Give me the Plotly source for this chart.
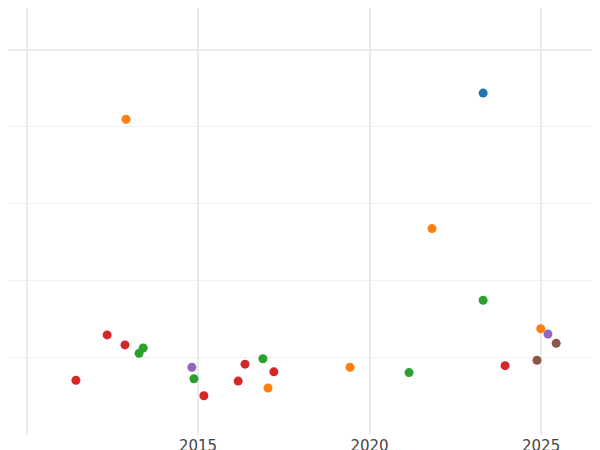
import plotly.graph_objects as go

colors = ["#1f77b4", "#ff7f0e", "#2ca02c", "#d62728", "#9467bd", "#8c564b"]
series_x = [
    [2023.31],
    [2012.90, 2021.82, 2024.99, 2019.43, 2017.04],
    [2023.31, 2013.28, 2013.40, 2014.88, 2016.89, 2021.15],
    [2011.44, 2012.35, 2012.87, 2015.17, 2016.17, 2016.37, 2017.21, 2023.95],
    [2014.82, 2025.20],
    [2024.88, 2025.44],
]
series_y = [
    [4.44],
    [4.10, 2.68, 1.38, 0.88, 0.61],
    [1.75, 1.06, 1.13, 0.73, 0.99, 0.81],
    [0.71, 1.30, 1.17, 0.51, 0.70, 0.92, 0.82, 0.90],
    [0.88, 1.31],
    [0.97, 1.19],
]
tick_vals = [2015, 2020, 2025]

fig = go.Figure()
for xs, ys, c in zip(series_x, series_y, colors):
    fig.add_trace(go.Scatter(x=xs, y=ys, mode="markers",
                             marker=dict(color=c, size=9), showlegend=False))

fig.update_layout(
    width=600, height=450, plot_bgcolor="white", paper_bgcolor="white",
    margin=dict(l=0, r=0, t=0, b=23, pad=0, autoexpand=False),
    font=dict(family="DejaVu Sans", size=15, color="#444"),
)
fig.update_xaxes(range=[2009.46, 2026.95], tickvals=tick_vals, automargin=False,
                 showgrid=True, gridcolor="#ebebeb", gridwidth=2,
                 minor=dict(dtick=5, tick0=2010, showgrid=True, gridcolor="#ebebeb", gridwidth=2),
                 zeroline=False, showline=False, ticks="")
fig.update_yaxes(range=[0, 5.545], dtick=5, tick0=0, showticklabels=False, automargin=False,
                 showgrid=True, gridcolor="#ebebeb", gridwidth=2, zeroline=False,
                 minor=dict(dtick=1, showgrid=True, gridcolor="#f0f0f0", gridwidth=1))
fig.write_html("out.html")
